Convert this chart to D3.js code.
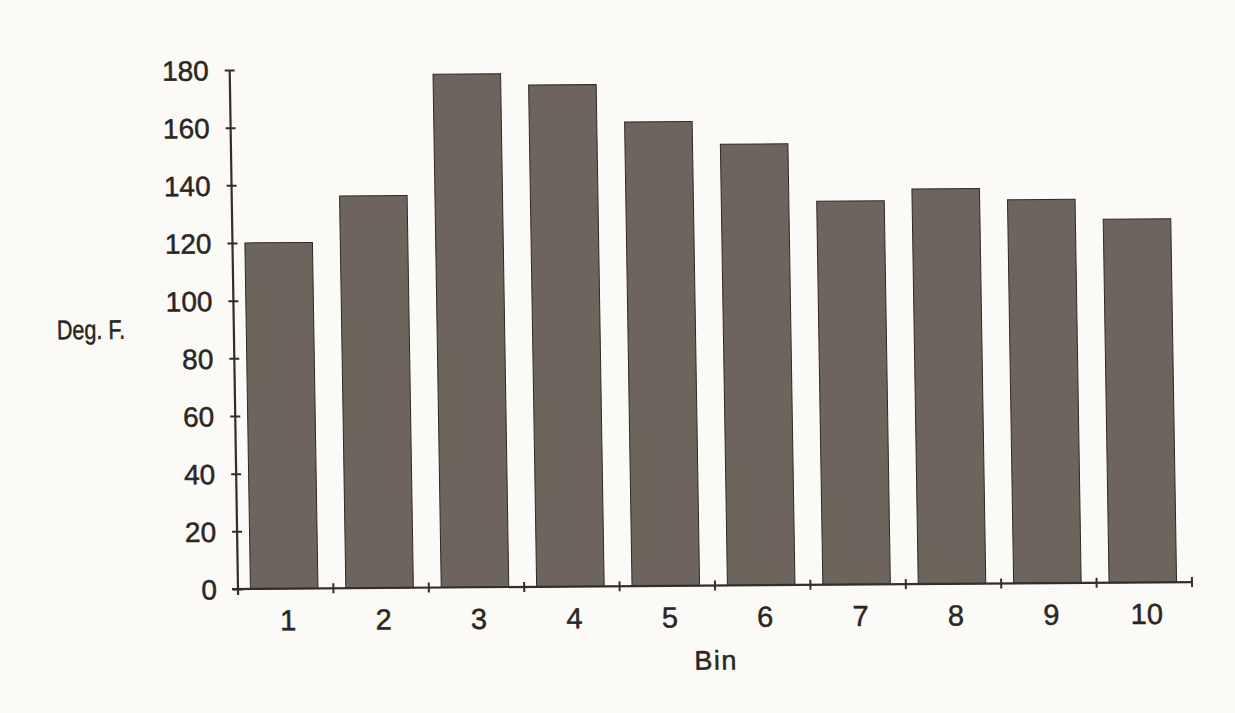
<!DOCTYPE html>
<html>
<head>
<meta charset="utf-8">
<script src="https://cdn.jsdelivr.net/npm/d3@7"></script>
<style>
  html, body { margin: 0; padding: 0; background: #fbfaf6; }
  svg { display: block; }
  text { font-family: "Liberation Sans", Arial, sans-serif; fill: #2b2622; stroke: #2b2622; stroke-width: 0.5px; }
</style>
</head>
<body>
<script>
// ---- data ----
const categories = ["1", "2", "3", "4", "5", "6", "7", "8", "9", "10"];
const values = [120, 136, 178, 174, 161, 153, 133, 137, 133, 126];
const yTicks = [0, 20, 40, 60, 80, 100, 120, 140, 160, 180];
const yLabel = "Deg. F.";
const xLabel = "Bin";

// ---- layout ----
const W = 1235, H = 713;
const x0 = 238, x1 = 1192, yBase = 589, yTop = 70;
const ink = "#332e29";

const svg = d3.select("body").append("svg").attr("width", W).attr("height", H);
svg.append("rect").attr("width", W).attr("height", H).attr("fill", "#fbfaf6");

// slight skew to mimic the scanned page
const kx = 0.016, ky = -0.0073;
const g = svg.append("g")
  .attr("transform", `matrix(1,${ky},${kx},1,${-kx * yBase},${-ky * x0})`);

const x = d3.scaleBand().domain(categories).range([x0, x1])
  .paddingInner(0.292).paddingOuter(0.146);
const y = d3.scaleLinear().domain([0, 180]).range([yBase, yTop]);
const gap = x.step() * x.paddingInner();

// bars
g.selectAll("rect.bar").data(values).join("rect")
  .attr("class", "bar")
  .attr("x", (d, i) => x(categories[i]) - 1.5)
  .attr("width", x.bandwidth())
  .attr("y", d => y(d))
  .attr("height", d => y(0) - y(d))
  .attr("fill", "#6d655d")
  .attr("stroke", "#2e2924")
  .attr("stroke-width", 1);

// y axis
const yAxis = g.append("g").attr("transform", `translate(${x0},0)`)
  .call(d3.axisLeft(y).tickValues(yTicks).tickSize(0).tickPadding(21).tickFormat(d3.format("d")));
yAxis.select(".domain").remove();
yAxis.append("line").attr("x1", 0).attr("x2", 0).attr("y1", yTop).attr("y2", yBase + 6)
  .attr("stroke", ink).attr("stroke-width", 2.2);
yAxis.selectAll(".tick").append("line")
  .attr("x1", -5).attr("x2", 5).attr("stroke", ink).attr("stroke-width", 2);
yAxis.selectAll(".tick text")
  .attr("font-size", 28).attr("fill", "#2b2622").attr("dy", "0.35em")
  .style("font-family", '"Liberation Sans", Arial, sans-serif');

// x axis (labels at band centres, ticks at band boundaries)
const xAxis = g.append("g").attr("transform", `translate(0,${yBase})`)
  .call(d3.axisBottom(x).tickSize(0).tickPadding(21));
xAxis.select(".domain").remove();
xAxis.selectAll(".tick text")
  .attr("font-size", 29).attr("fill", "#2b2622").attr("dx", 2)
  .style("font-family", '"Liberation Sans", Arial, sans-serif');
xAxis.append("line").attr("x1", x0 - 6).attr("x2", x1).attr("y1", 0).attr("y2", 0)
  .attr("stroke", ink).attr("stroke-width", 2.2);
const bounds = categories.map(c => x(c) - gap / 2)
  .concat([x(categories[categories.length - 1]) + x.bandwidth() + gap / 2]);
xAxis.selectAll("line.btick").data(bounds.slice(1)).join("line")
  .attr("class", "btick")
  .attr("x1", d => d).attr("x2", d => d).attr("y1", -5).attr("y2", 5)
  .attr("stroke", ink).attr("stroke-width", 2);

// axis titles
g.append("text").attr("transform", "translate(61,338) scale(0.8,1)")
  .attr("font-size", 27).text(yLabel);
g.append("text").attr("x", (x0 + x1) / 2).attr("y", 673).attr("font-size", 27)
  .attr("text-anchor", "middle").attr("letter-spacing", "1.5px").text(xLabel);
</script>
</body>
</html>
